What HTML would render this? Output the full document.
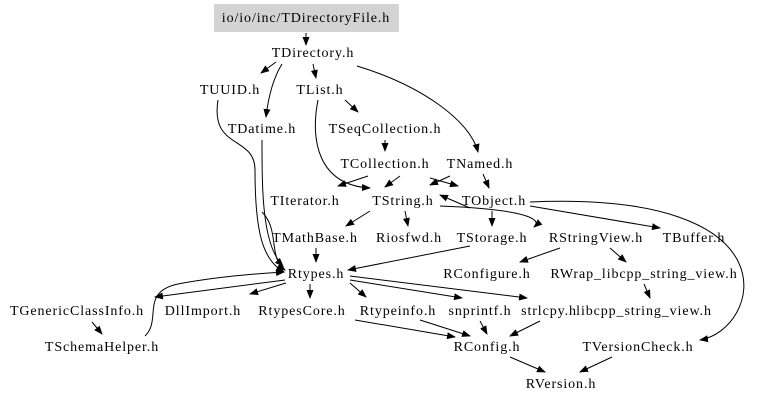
<!DOCTYPE html>
<html><head><meta charset="utf-8"><style>
html,body{margin:0;padding:0;background:#fff;}
svg text{font-family:"Liberation Serif",serif;font-size:14px;letter-spacing:0.9px;fill:#000;text-anchor:middle;}
</style></head><body>
<svg width="768" height="402" viewBox="0 0 768 402" xmlns="http://www.w3.org/2000/svg">
<defs><marker id="a" markerWidth="9" markerHeight="7" refX="8" refY="3.5" orient="auto" markerUnits="userSpaceOnUse"><path d="M0,0 L9,3.5 L0,7 z" fill="#000"/></marker></defs>
<rect x="214" y="4" width="185" height="28" fill="#d3d3d3"/>
<g fill="none" stroke="#000" stroke-width="1" marker-end="url(#a)">
<path d="M306,33 L306,45"/>
<path d="M276,62 L261,73"/>
<path d="M282,64 C272,80 268,100 266,117"/>
<path d="M313,64 L316,78"/>
<path d="M357,66 C420,85 470,120 478,152"/>
<path d="M345,100 L358,112"/>
<path d="M318,100 C310,140 318,185 370,188"/>
<path d="M385,140 L385,151"/>
<path d="M368,176 L338,186"/>
<path d="M400,176 L385,187"/>
<path d="M430,178 L458,186"/>
<path d="M483,174 L489,188"/>
<path d="M450,176 L430,185"/>
<path d="M370,211 L346,226"/>
<path d="M405,211 L408,226"/>
<path d="M492,211 L492,226"/>
<path d="M470,208 L440,195"/>
<path d="M440,206 C540,210 540,222 534,227"/>
<path d="M530,206 L660,228"/>
<path d="M530,202 C800,190 760,330 700,340"/>
<path d="M262,212 C280,230 268,258 285,270"/>
<path d="M218,100 C210,150 255,135 255,170 C255,230 262,260 284,272"/>
<path d="M262,140 C262,190 262,245 283,266"/>
<path d="M316,248 L316,262"/>
<path d="M470,246 L348,270"/>
<path d="M560,248 L520,262"/>
<path d="M610,248 L626,262"/>
<path d="M644,284 L650,298"/>
<path d="M285,280 L155,297"/>
<path d="M145,336 C162,320 140,292 178,284 C210,278 250,274 284,272"/>
<path d="M286,283 L250,294"/>
<path d="M310,284 L310,298"/>
<path d="M350,283 L366,297"/>
<path d="M350,280 L462,298"/>
<path d="M350,276 L527,298"/>
<path d="M92,322 L102,334"/>
<path d="M355,320 L455,337"/>
<path d="M420,320 L470,336"/>
<path d="M480,321 L487,334"/>
<path d="M540,321 L510,336"/>
<path d="M510,357 L545,372"/>
<path d="M612,357 L580,372"/>
</g>
<text x="306" y="22">io/io/inc/TDirectoryFile.h</text>
<text x="313" y="57">TDirectory.h</text>
<text x="230" y="94">TUUID.h</text>
<text x="320" y="94">TList.h</text>
<text x="262" y="133">TDatime.h</text>
<text x="385" y="133">TSeqCollection.h</text>
<text x="385" y="168">TCollection.h</text>
<text x="480" y="168">TNamed.h</text>
<text x="305" y="205">TIterator.h</text>
<text x="403" y="205">TString.h</text>
<text x="494" y="205">TObject.h</text>
<text x="315" y="242">TMathBase.h</text>
<text x="409" y="242">Riosfwd.h</text>
<text x="492" y="242">TStorage.h</text>
<text x="596" y="242">RStringView.h</text>
<text x="694" y="242">TBuffer.h</text>
<text x="316" y="278">Rtypes.h</text>
<text x="487" y="278">RConfigure.h</text>
<text x="644" y="278">RWrap_libcpp_string_view.h</text>
<text x="77" y="315">TGenericClassInfo.h</text>
<text x="203" y="315">DllImport.h</text>
<text x="302" y="315">RtypesCore.h</text>
<text x="398" y="315">Rtypeinfo.h</text>
<text x="480" y="315">snprintf.h</text>
<text x="549" y="315">strlcpy.h</text>
<text x="644" y="315">libcpp_string_view.h</text>
<text x="102" y="351">TSchemaHelper.h</text>
<text x="487" y="351">RConfig.h</text>
<text x="638" y="351">TVersionCheck.h</text>
<text x="561" y="388">RVersion.h</text>
</svg>
</body></html>
